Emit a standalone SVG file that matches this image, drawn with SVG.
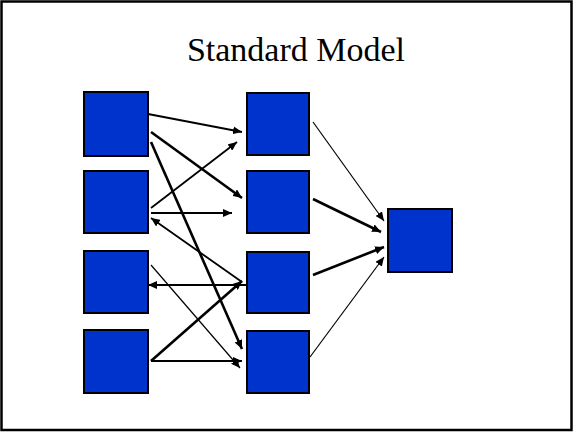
<svg xmlns="http://www.w3.org/2000/svg" width="573" height="432" viewBox="0 0 573 432">
<defs>
<style>
.box{fill:#0033cc;stroke:#000;stroke-width:2}
.c{stroke:#000;fill:none}
.t1{stroke-width:1.2}
.t2{stroke-width:1.8}
.t3{stroke-width:2.6}
.title{font-family:"Liberation Serif","Times New Roman",serif;font-size:34px;fill:#000}
</style>
<marker id="ah" markerUnits="userSpaceOnUse" markerWidth="10" markerHeight="8" refX="9" refY="4" orient="auto">
<path d="M0,0 L9,4 L0,8 z" fill="#000"/>
</marker>
</defs>
<rect x="1.5" y="1.5" width="570" height="428.5" fill="#fff" stroke="#000" stroke-width="2.5"/>
<text class="title" x="296" y="61" text-anchor="middle">Standard Model</text>
<g id="L1"><rect class="box" x="84" y="92" width="64" height="64"/></g>
<g id="L2"><rect class="box" x="84" y="171" width="64" height="62"/></g>
<g id="L3"><rect class="box" x="84" y="251" width="64" height="62"/></g>
<g id="L4"><rect class="box" x="84" y="330" width="64" height="63"/></g>
<g id="M1"><rect class="box" x="247" y="93" width="62" height="62"/></g>
<g id="M2"><rect class="box" x="247" y="171" width="62" height="62"/></g>
<g id="M3"><rect class="box" x="247" y="252" width="62" height="61"/></g>
<g id="M4"><rect class="box" x="247" y="331" width="62" height="62"/></g>
<g id="R"><rect class="box" x="388" y="209" width="64" height="63"/></g>
<g id="connectors" marker-end="url(#ah)">
<line class="c t2" x1="148" y1="114" x2="242" y2="132"/>
<line class="c t3" x1="151" y1="132" x2="242" y2="198"/>
<line class="c t3" x1="151" y1="142" x2="242" y2="349"/>
<line class="c t2" x1="151" y1="208" x2="237" y2="142"/>
<line class="c t2" x1="151" y1="213" x2="232" y2="213"/>
<line class="c t2" x1="242" y1="282" x2="151" y2="218"/>
<line class="c t2" x1="247" y1="285" x2="148" y2="285"/>
<line class="c t1" x1="151" y1="265" x2="240" y2="368"/>
<line class="c t3" x1="151" y1="361" x2="242" y2="281"/>
<line class="c t2" x1="151" y1="361" x2="242" y2="361"/>
<line class="c t1" x1="313" y1="122" x2="384" y2="221"/>
<line class="c t3" x1="313" y1="199" x2="381" y2="232"/>
<line class="c t3" x1="313" y1="275" x2="384" y2="247"/>
<line class="c t1" x1="310" y1="357" x2="384" y2="257"/>
</g>
</svg>
